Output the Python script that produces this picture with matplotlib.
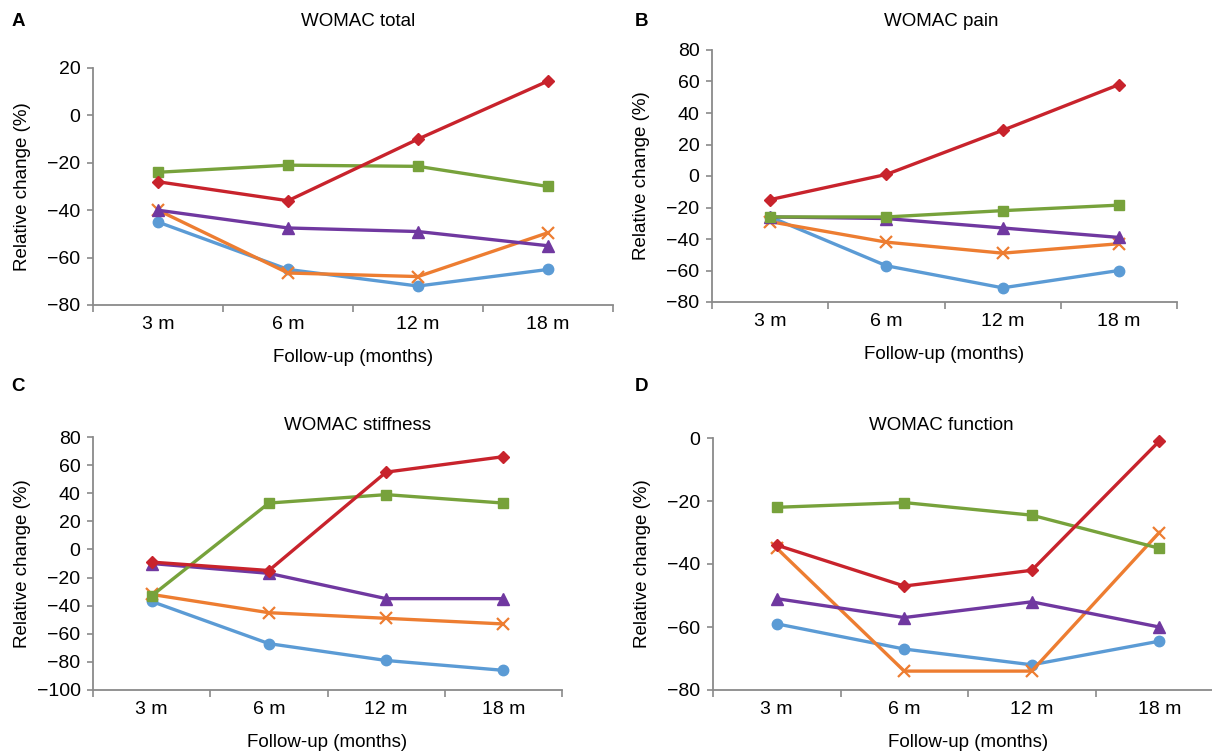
import matplotlib.pyplot as plt
import numpy as np

plt.rcParams['font.family'] = ['Liberation Sans', 'DejaVu Sans']

# Follow-up time points
months = ['3 m', '6 m', '12 m', '18 m']

# WOMAC total
total_circle = [-45, -65, -72, -65]
total_cross = [-40, -66.5, -68, -49.5]
total_triangle = [-40, -47.5, -49, -55]
total_square = [-24, -21, -21.5, -30]
total_diamond = [-28, -36, -10, 14.5]

# WOMAC pain
pain_circle = [-26, -57, -71, -60]
pain_cross = [-29, -42, -49, -43]
pain_triangle = [-26, -27, -33, -39]
pain_square = [-26, -26, -22, -18.5]
pain_diamond = [-15, 1, 29, 58]

# WOMAC stiffness
stiff_circle = [-37, -67, -79, -86]
stiff_cross = [-32, -45, -49, -53]
stiff_triangle = [-10, -17, -35, -35]
stiff_square = [-33, 33, 39, 33]
stiff_diamond = [-9, -15, 55, 66]

# WOMAC function
func_circle = [-59, -67, -72, -64.5]
func_cross = [-35, -74, -74, -30]
func_triangle = [-51, -57, -52, -60]
func_square = [-22, -20.5, -24.5, -35]
func_diamond = [-34, -47, -42, -1]

W, H = 1212, 751
grey = '#8a8a8a'
styles = [('#5B9BD5', 'o', 7.5), ('#ED7D31', 'x', 8), ('#7038A0', '^', 8),
          ('#77A23B', 's', 7.5), ('#C8232C', 'D', 6)]

fig = plt.figure(figsize=(W / 100, H / 100), dpi=100)


def panel(box, series, ylo, yhi, title, letter, title_y, letter_y):
    left, top, right, bottom = box
    ax = fig.add_axes([left / W, 1 - bottom / H, (right - left) / W, (bottom - top) / H])
    x = np.arange(len(months))
    for vals, (col, mk, ms) in zip(series, styles):
        ax.plot(x, vals, color=col, lw=2.4, marker=mk, ms=ms, mfc=col, mec=col,
                mew=1.6 if mk == 'x' else 1, clip_on=False)
    ax.set_xlim(-0.5, 3.5)
    ax.set_ylim(ylo, yhi)
    ax.set_yticks(range(ylo, yhi + 1, 20))
    ax.set_xticks(np.arange(-0.5, 4, 1))
    ax.set_xticklabels([])
    ax.set_xticks(x, minor=True)
    ax.set_xticklabels(months, minor=True)
    ax.tick_params(axis='x', which='major', length=5, width=1.2, color=grey)
    ax.tick_params(axis='x', which='minor', length=0, pad=8, labelsize=14)
    ax.tick_params(axis='y', length=4, width=1.2, color=grey, pad=5, labelsize=14)
    for s in ['top', 'right']:
        ax.spines[s].set_visible(False)
    for s in ['left', 'bottom']:
        ax.spines[s].set_color(grey)
        ax.spines[s].set_linewidth(1.3)
    ax.set_ylabel('Relative change (%)', fontsize=13.5)
    ax.yaxis.set_label_coords((31 + (left - 93) - left) / (right - left), 0.5)
    ax.set_xlabel('Follow-up (months)', fontsize=13.5)
    ax.xaxis.set_label_coords(0.5, -44 / (bottom - top))
    cx = 358 if left < 600 else 941
    fig.text(cx / W, 1 - title_y / H, title, ha='center', va='center', fontsize=13.5)
    lx = 18 if left < 600 else 641
    fig.text(lx / W, 1 - letter_y / H, letter, ha='center', va='center',
             fontsize=13.5, fontweight='bold')
    return ax


panel((93, 68, 613, 305),
      [total_circle, total_cross, total_triangle, total_square, total_diamond],
      -80, 20, 'WOMAC total', 'A', 22, 22)
panel((712, 50, 1177, 302),
      [pain_circle, pain_cross, pain_triangle, pain_square, pain_diamond],
      -80, 80, 'WOMAC pain', 'B', 22, 22)
panel((93, 437, 562, 690),
      [stiff_circle, stiff_cross, stiff_triangle, stiff_square, stiff_diamond],
      -100, 80, 'WOMAC stiffness', 'C', 425, 387)
panel((713, 438, 1223, 690),
      [func_circle, func_cross, func_triangle, func_square, func_diamond],
      -80, 0, 'WOMAC function', 'D', 426, 387)

fig.savefig('out.png', dpi=100)
